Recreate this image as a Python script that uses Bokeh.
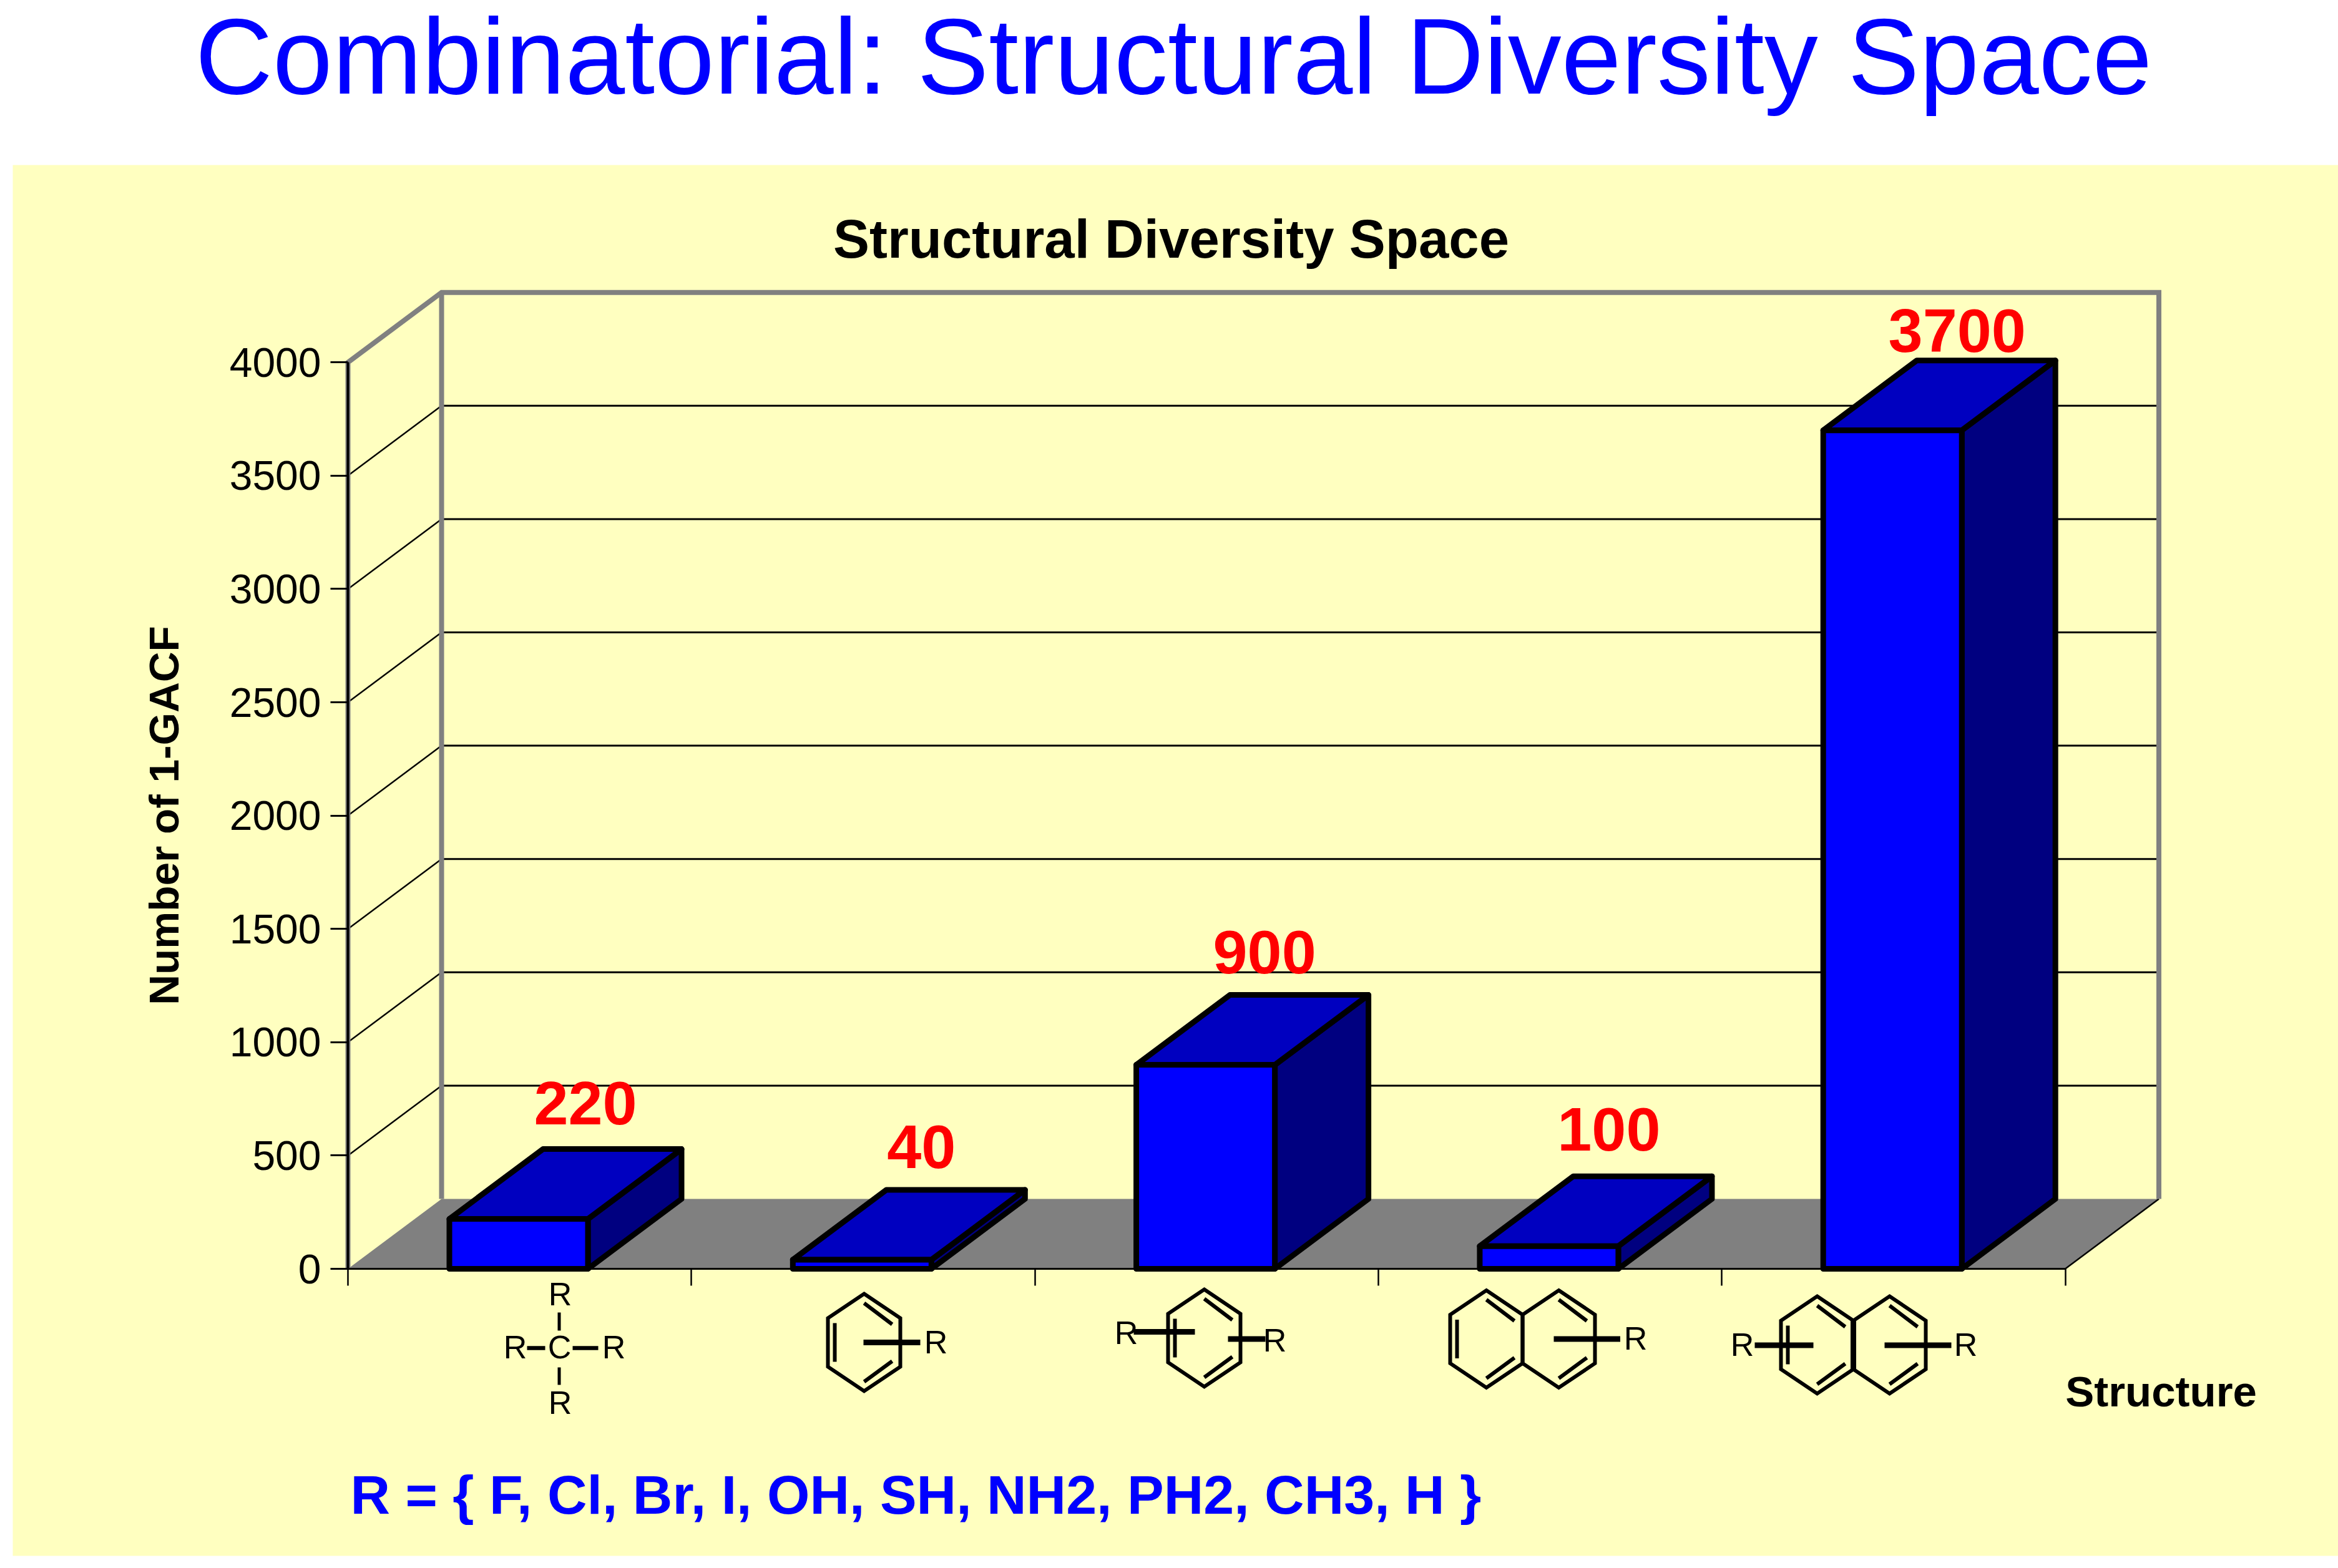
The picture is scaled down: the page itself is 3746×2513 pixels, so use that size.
from bokeh.core.properties import value
from bokeh.embed import file_html
from bokeh.models import ColumnDataSource, FixedTicker, Label, LinearScale, Range1d
from bokeh.plotting import figure
from bokeh.resources import INLINE

# ---- data ----
categories = ["CR4", "benzene-R", "R-benzene-R", "naphthalene-R", "R-naphthalene-R"]
values = [220, 40, 900, 100, 3700]
y_ticks = [0, 500, 1000, 1500, 2000, 2500, 3000, 3500, 4000]
main_title = "Combinatorial: Structural Diversity Space"
chart_title = "Structural Diversity Space"
y_title = "Number of 1-GACF"
x_title = "Structure"
r_note = "R = { F, Cl, Br, I, OH, SH, NH2, PH2, CH3, H }"

# ---- layout (image pixels) ----
OFF = 0                    # where the figure's corner lands on the page
W, H = 3746, 2513
X0, Y0 = 557.0, 2033.0     # where category 0 / value 0 land
PX_CAT, PX_VAL = 550.3, 0.3632
DEPTH_X, DEPTH_Y = 150.0, 112.0
DX, DV = DEPTH_X / PX_CAT, DEPTH_Y / PX_VAL
BAR_W = 222.0 / PX_CAT
BAR_C = 0.497
NCAT = len(categories)
BASE = 0.375               # em correction for the renderer's baseline placement

YELLOW, BLUE, TOP, SIDE, WALL = "#FFFFC0", "#0000FF", "#0000C0", "#000080", "#808080"
FONT = value("Liberation Sans")

x_range = Range1d((OFF - X0) / PX_CAT, (OFF + W - X0) / PX_CAT)
y_range = Range1d((Y0 - (OFF + H)) / PX_VAL, (Y0 - OFF) / PX_VAL)

p = figure(width=W, height=H, x_range=x_range, y_range=y_range, output_backend="svg",
           toolbar_location=None, min_border=0, background_fill_color="white",
           border_fill_color="white", outline_line_color=None)
p.grid.visible = False
# Pixel-space ranges for the slide decoration (image coordinates).
p.extra_x_ranges["px"] = Range1d(OFF, OFF + W)
p.extra_y_ranges["px"] = Range1d(OFF + H, OFF)
p.extra_x_scales = {"px": LinearScale()}
p.extra_y_scales = {"px": LinearScale()}
PX = dict(x_range_name="px", y_range_name="px")

# slide background
p.quad(left=[20], right=[OFF + W], top=[264], bottom=[2493], fill_color=YELLOW, line_color=None, **PX)

# floor
p.patch([0, NCAT, NCAT + DX, DX], [0, 0, DV, DV], fill_color=WALL, line_color=None)

# gridlines on the back wall and the side wall
grid = [v for v in y_ticks if 0 < v < y_ticks[-1]]
p.segment([DX] * len(grid), [v + DV for v in grid], [NCAT + DX] * len(grid), [v + DV for v in grid],
          line_color="black", line_width=3)
p.segment([0] * len(grid), grid, [DX] * len(grid), [v + DV for v in grid],
          line_color="black", line_width=2.5)
# floor right edge
p.segment([NCAT], [0], [NCAT + DX], [DV], line_color="black", line_width=2.5)

# wall frame
VT = y_ticks[-1]
p.multi_line([[0, 0, DX, NCAT + DX, NCAT + DX], [DX, DX]],
             [[0, VT, VT + DV, VT + DV, DV], [VT + DV, DV]],
             line_color=WALL, line_width=8, line_join="miter")

# bars
lefts = [i + BAR_C - BAR_W / 2 for i in range(NCAT)]
rights = [i + BAR_C + BAR_W / 2 for i in range(NCAT)]
side_x = [[r, r + DX, r + DX, r] for r in rights]
side_y = [[0, DV, v + DV, v] for v in values]
top_x = [[l, r, r + DX, l + DX] for l, r in zip(lefts, rights)]
top_y = [[v, v, v + DV, v + DV] for v in values]
OUT = dict(line_color="black", line_width=9, line_join="round")
p.patches(side_x, side_y, fill_color=SIDE, **OUT)
p.patches(top_x, top_y, fill_color=TOP, **OUT)
p.quad(left=lefts, right=rights, top=values, bottom=[0] * NCAT, fill_color=BLUE, **OUT)

# value labels
LABEL_SIZE = 99
label_dx = [107, 95, 94.5, 96, 103.5]
label_dy = [d - BASE * LABEL_SIZE for d in (-148, -143.5, -143, -150, -123)]
labels = ColumnDataSource(dict(
    x=[i + BAR_C for i in range(NCAT)], y=values, t=[str(v) for v in values], dx=label_dx, dy=label_dy))
p.text("x", "y", "t", source=labels, x_offset="dx", y_offset="dy", text_color="#FF0000",
       text_font=FONT, text_font_style="bold", text_font_size=f"{LABEL_SIZE}px",
       text_align="center", text_baseline="alphabetic")

# axes
ya, xa = p.yaxis[0], p.xaxis[0]
ya.fixed_location = 0
ya.bounds = (0, VT)
ya.ticker = FixedTicker(ticks=y_ticks)
ya.minor_tick_line_color = None
ya.major_tick_in, ya.major_tick_out = 0, 28
ya.major_tick_line_color = "black"
ya.major_tick_line_width = 3
ya.axis_line_color = "black"
ya.axis_line_width = 4
ya.major_label_standoff = 15
ya.major_label_text_font = "Liberation Sans"
ya.major_label_text_font_size = "66px"
ya.major_label_text_color = "black"
ya.axis_label = y_title
ya.axis_label_text_font = "Liberation Sans"
ya.axis_label_text_font_style = "bold"
ya.axis_label_text_font_size = "67.5px"
ya.axis_label_text_color = "black"
ya.axis_label_standoff = 65

xa.fixed_location = 0
xa.bounds = (0, NCAT)
xa.ticker = FixedTicker(ticks=list(range(NCAT + 1)))
xa.major_label_overrides = {i: "" for i in range(NCAT + 1)}
xa.major_label_text_font_size = "0px"
xa.minor_tick_line_color = None
xa.major_tick_in, xa.major_tick_out = 0, 27
xa.major_tick_line_color = "black"
xa.major_tick_line_width = 2.5
xa.axis_line_color = "black"
xa.axis_line_width = 3

# texts
def label(x, y, text, size, color="black", style="normal", align="center"):
    p.text([x], [y - BASE * size], [text], text_color=color, text_font=FONT, text_font_style=style,
           text_font_size=f"{size}px", text_align=align, text_baseline="alphabetic", **PX)

p.add_layout(Label(x=1880, y=185, text=main_title, text_color="#0000FF", text_font="Liberation Sans",
                   text_font_size="172px", text_align="center", text_baseline="bottom", **PX))
label(1876, 415, chart_title, 87, style="bold")
label(3462, 2256, x_title, 69, style="bold")
label(561, 2428, r_note, 88, "#0000FF", "bold", "left")

# structure drawings used as category labels
rings_x, rings_y, seg = [], [], []

def ring(cx, cy, left=True, hw=58, hh=78):
    rings_x.append([cx, cx + hw, cx + hw, cx, cx - hw, cx - hw])
    rings_y.append([cy - hh, cy - hh / 2, cy + hh / 2, cy + hh, cy + hh / 2, cy - hh / 2])
    seg.append((cx, cy - 63, cx + 45, cy - 29, 6))
    seg.append((cx, cy + 63, cx + 45, cy + 30, 6))
    if left:
        seg.append((cx - 47, cy - 31, cx - 47, cy + 31, 6))

def bond(x0, y0, x1, y1, w=9):
    seg.append((x0, y0, x1, y1, w))

def atom(x, y, t="R"):
    label(x, y + 19, t, 52)

# C R4
for a in ((897, 2074), (825, 2159), (983, 2159), (897, 2248)):
    atom(*a)
atom(896, 2159, "C")
bond(895.5, 2103, 895.5, 2132, 5)
bond(895.5, 2191, 895.5, 2219, 5)
bond(844, 2160, 873, 2160, 6.5)
bond(917, 2160, 958, 2160, 6.5)
# benzene
ring(1384, 2151)
bond(1383, 2151, 1474, 2151)
atom(1499, 2151)
# disubstituted benzene
ring(1929, 2144)
bond(1816, 2134, 1914, 2134)
bond(1967, 2145.5, 2027, 2145.5)
atom(1804, 2136)
atom(2042, 2148)
# naphthalene
ring(2381, 2145.5)
ring(2497, 2145.5, left=False)
bond(2489, 2145.5, 2595.5, 2145.5)
atom(2620, 2145)
# disubstituted naphthalene
ring(2911, 2155)
ring(3027, 2155, left=False)
bond(2969, 2116, 2969, 2194, 9)
bond(2811, 2155.5, 2905, 2155.5)
bond(3019, 2155.5, 3126, 2155.5)
atom(2791, 2155)
atom(3149, 2155)

p.patches(rings_x, rings_y, fill_color=None, line_color="black", line_width=6, line_join="miter", **PX)
p.segment(*[list(c) for c in zip(*seg)][:4], line_width=[s[4] for s in seg], line_color="black", **PX)

open("out.html", "w").write(file_html(p, INLINE))
